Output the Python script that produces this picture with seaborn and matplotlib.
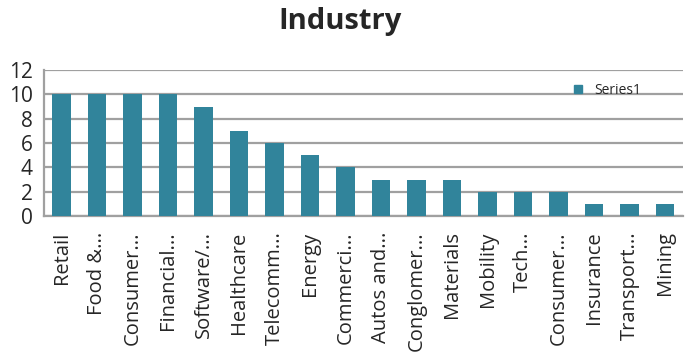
import numpy as np
import pandas as pd
import seaborn as sns
import matplotlib.pyplot as plt
from matplotlib.lines import Line2D

industries = ['Retail', 'Food &...', 'Consumer...', 'Financial...', 'Software/...',
              'Healthcare', 'Telecomm...', 'Energy', 'Commerci...', 'Autos and...',
              'Conglomer...', 'Materials', 'Mobility', 'Tech...', 'Consumer...',
              'Insurance', 'Transport...', 'Mining']
counts = [10, 10, 10, 10, 9, 7, 6, 5, 4, 3, 3, 3, 2, 2, 2, 1, 1, 1]
y_ticks = [0, 2, 4, 6, 8, 10, 12]

bar_color = '#31849B'
grid_color = '#A0A0A0'

sns.set_style('white')
plt.rcParams['font.family'] = ['Open Sans', 'DejaVu Sans']

df = pd.DataFrame({'pos': range(len(industries)), 'count': counts})

fig = plt.figure(figsize=(6.85, 3.59), dpi=100)
ax = fig.add_axes([0.064, 0.398, 0.933, 0.407])

sns.barplot(data=df, x='pos', y='count', color=bar_color, width=0.52,
            saturation=1, linewidth=0, edgecolor='none', ax=ax, zorder=3)

ax.set_ylim(0, 12)
ax.set_yticks(y_ticks)
ax.set_yticklabels([str(t) for t in y_ticks], fontsize=15)
ax.set_xlim(-0.5, len(industries) - 0.5)
ax.set_xticks(range(len(industries)))
ax.set_xticklabels(industries, rotation=90, fontsize=14.5)
ax.set_xticks(np.arange(-0.5, len(industries)), minor=True)
ax.tick_params(axis='x', which='major', length=0, pad=11)
ax.tick_params(axis='x', which='minor', length=6, color=grid_color, width=1.5)
ax.tick_params(axis='y', length=6, color=grid_color, width=1.5, pad=2)
ax.set_xlabel('')
ax.set_ylabel('')

ax.yaxis.grid(True, color=grid_color, linewidth=1.6, zorder=0)
ax.set_axisbelow(True)
for s in ['top', 'right']:
    ax.spines[s].set_visible(False)
for s in ['left', 'bottom']:
    ax.spines[s].set_color(grid_color)
    ax.spines[s].set_linewidth(1.6)

handle = Line2D([], [], marker='s', linestyle='', color=bar_color, markersize=6)
ax.legend([handle], ['Series1'], loc='upper right', bbox_to_anchor=(0.955, 1.0),
          frameon=False, fontsize=10, handletextpad=0.2)

fig.text(0.497, 0.94, 'Industry', ha='center', va='center', fontsize=21,
         fontweight='bold')

fig.savefig('out.png', dpi=100)
